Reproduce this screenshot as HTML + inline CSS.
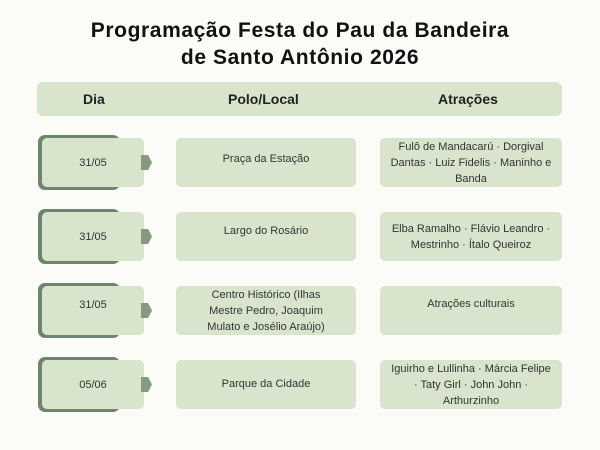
<!DOCTYPE html>
<html><head><meta charset="utf-8"><style>
body{margin:0;width:600px;height:450px;background:#fbfcf8;position:relative;font-family:"Liberation Sans",sans-serif;overflow:hidden}
.t{position:absolute;left:0;width:600px;text-align:center;font-weight:bold;font-size:21px;letter-spacing:0.6px;color:#111}
.hdr{position:absolute;left:37px;top:82px;width:525px;height:34px;background:#d9e4cc;border-radius:6px}
.h{position:absolute;top:91px;font-weight:bold;font-size:14px;color:#222}
.b{position:absolute;background:#d9e4cc;border-radius:5px;display:flex;align-items:center;justify-content:center;text-align:center;font-size:11px;line-height:16px;color:#333}
.d{position:absolute;background:#6e8470;border-radius:7px}
.a{position:absolute;width:11px;height:15px;background:#869a82;clip-path:polygon(0 0,65% 0,100% 50%,65% 100%,0 100%)}
</style></head><body>
<div class="t" style="top:19px">Programação Festa do Pau da Bandeira</div>
<div class="t" style="top:46px">de Santo Antônio 2026</div>
<div class="hdr"></div>
<div class="h" style="left:83px">Dia</div>
<div class="h" style="left:228px">Polo/Local</div>
<div class="h" style="left:438px">Atrações</div>

<div class="d" style="left:38px;top:135px;width:82px;height:55px"></div>
<div class="b" style="left:42px;top:138px;width:102px;height:49px">31/05</div>
<div class="a" style="left:141px;top:155px"></div>
<div class="b" style="left:176px;top:138px;width:180px;height:49px;align-items:flex-start;padding-top:13px;box-sizing:border-box">Praça da Estação</div>
<div class="b" style="left:380px;top:138px;width:182px;height:49px;padding:0 8px;box-sizing:border-box">Fulô de Mandacarú · Dorgival Dantas · Luiz Fidelis · Maninho e Banda</div>

<div class="d" style="left:38px;top:209px;width:82px;height:55px"></div>
<div class="b" style="left:42px;top:212px;width:102px;height:49px">31/05</div>
<div class="a" style="left:141px;top:229px"></div>
<div class="b" style="left:176px;top:212px;width:180px;height:49px;align-items:flex-start;padding-top:11px;box-sizing:border-box">Largo do Rosário</div>
<div class="b" style="left:380px;top:212px;width:182px;height:49px;padding:0 10px;box-sizing:border-box">Elba Ramalho · Flávio Leandro · Mestrinho · Ítalo Queiroz</div>

<div class="d" style="left:38px;top:283px;width:82px;height:55px"></div>
<div class="b" style="left:42px;top:286px;width:102px;height:49px;align-items:flex-start;padding-top:11px;box-sizing:border-box">31/05</div>
<div class="a" style="left:141px;top:303px"></div>
<div class="b" style="left:176px;top:286px;width:180px;height:49px;padding:0 30px;box-sizing:border-box">Centro Histórico (Ilhas Mestre Pedro, Joaquim Mulato e Josélio Araújo)</div>
<div class="b" style="left:380px;top:286px;width:182px;height:49px;align-items:flex-start;padding-top:10px;box-sizing:border-box">Atrações culturais</div>

<div class="d" style="left:38px;top:357px;width:82px;height:55px"></div>
<div class="b" style="left:42px;top:360px;width:102px;height:49px">05/06</div>
<div class="a" style="left:141px;top:377px"></div>
<div class="b" style="left:176px;top:360px;width:180px;height:49px;align-items:flex-start;padding-top:16px;box-sizing:border-box">Parque da Cidade</div>
<div class="b" style="left:380px;top:360px;width:182px;height:49px;padding:0 8px;box-sizing:border-box">Iguirho e Lullinha · Márcia Felipe · Taty Girl · John John · Arthurzinho</div>
</body></html>
